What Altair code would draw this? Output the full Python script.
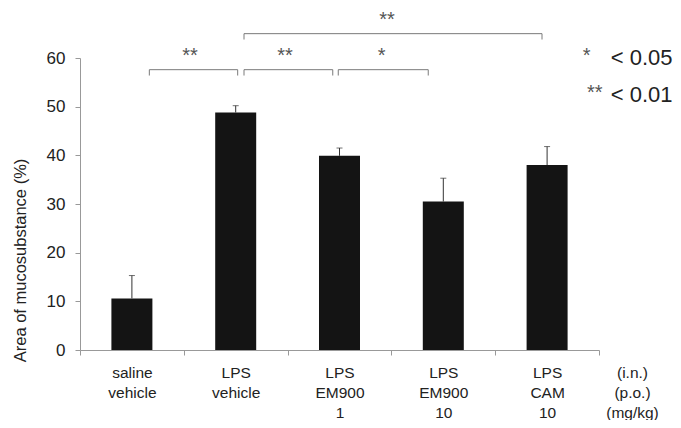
import altair as alt
import pandas as pd

# ---- data ----
row_in = ["saline", "LPS", "LPS", "LPS", "LPS"]
row_po = ["vehicle", "vehicle", "EM900", "EM900", "CAM"]
row_dose = ["", "", "1", "10", "10"]
means = [10.6, 48.8, 39.9, 30.5, 38.0]
errors = [4.7, 1.4, 1.6, 4.8, 3.8]
unit_labels = ["(i.n.)", "(p.o.)", "(mg/kg)"]

# significance brackets (x in group units: group k spans k..k+1)
br_x1 = [0.668, 1.580, 2.488, 1.580]
br_x2 = [1.519, 2.435, 3.355, 4.451]
br_y = [57.6, 57.6, 57.6, 65.0]
br_drop = 1.2
br_star = ["**", "**", "*", "**"]
br_star_x = [1.06, 1.975, 2.907, 2.958]
br_star_y = [59.2, 59.2, 59.2, 66.5]

# p-value key
key_star = ["*", "**"]
key_star_x = [4.881, 4.959]
key_star_y = [59.2, 51.6]
key_text = ["< 0.05", "< 0.01"]
key_text_x = [5.113, 5.113]
key_text_y = [58.6, 51.0]

FONT = "Liberation Sans"

cats = [f"{a}|{b}|{c}" for a, b, c in zip(row_in, row_po, row_dose)]
bars = pd.DataFrame({"cat": cats, "mean": means,
                     "top": [m + e for m, e in zip(means, errors)]})

pts = []
for i, (x1, x2, y) in enumerate(zip(br_x1, br_x2, br_y)):
    pts += [
        {"id": i, "o": 0, "x": x1, "y": y - br_drop},
        {"id": i, "o": 1, "x": x1, "y": y},
        {"id": i, "o": 2, "x": x2, "y": y},
        {"id": i, "o": 3, "x": x2, "y": y - br_drop},
    ]
brackets = pd.DataFrame(pts)
stars = pd.DataFrame({"x": br_star_x + key_star_x,
                      "y": br_star_y + key_star_y,
                      "t": br_star + key_star})
keytext = pd.DataFrame({"x": key_text_x, "y": key_text_y, "t": key_text})

yscale = alt.Scale(domain=[0, 60], nice=False)
xband = alt.Scale(paddingInner=0, paddingOuter=0)
xq = alt.Scale(domain=[0, 5], nice=False, zero=False)

xaxis = alt.Axis(
    title=unit_labels, titleX=552, titleY=15, titleAlign="center",
    titleBaseline="top", titleFontSize=15.5, titleFontWeight="normal",
    titleLineHeight=20, titleColor="#222", titleFont=FONT,
    labelExpr="split(datum.label, '|')", labelAngle=0, labelFontSize=15.5,
    labelLineHeight=20, labelPadding=10, labelBaseline="top",
    labelColor="#222", labelFont=FONT,
    tickBand="extent", tickSize=5, tickColor="#999", domainColor="#999",
)
yaxis = alt.Axis(
    title="Area of mucosubstance (%)", values=[0, 10, 20, 30, 40, 50, 60],
    tickSize=5, labelPadding=10, labelFontSize=17, labelColor="#222",
    labelFont=FONT, titleFont=FONT, titleFontSize=16.5, titleFontWeight="normal",
    titleColor="#222", titleX=-60, titleY=202, titleAngle=-90,
    titleAlign="center", titleBaseline="middle", grid=False,
    domainColor="#999", tickColor="#999",
)

base = alt.Chart(bars)
bar_layer = base.mark_bar(color="#141414", width=alt.RelativeBandSize(0.395)).encode(
    x=alt.X("cat:N", sort=None, scale=xband, axis=xaxis),
    y=alt.Y("mean:Q", scale=yscale, axis=yaxis),
)
err_layer = base.mark_rule(color="#333", strokeWidth=1).encode(
    x=alt.X("cat:N", sort=None, scale=xband, axis=xaxis),
    y=alt.Y("mean:Q", scale=yscale, axis=yaxis),
    y2="top:Q",
)
cap_layer = base.mark_tick(color="#333", thickness=1, size=6).encode(
    x=alt.X("cat:N", sort=None, scale=xband, axis=xaxis),
    y=alt.Y("top:Q", scale=yscale, axis=yaxis),
)
bar_group = alt.layer(bar_layer, err_layer, cap_layer)

bracket_layer = alt.Chart(brackets).mark_line(color="#7a7a7a", strokeWidth=1).encode(
    x=alt.X("x:Q", scale=xq, axis=None),
    y=alt.Y("y:Q", scale=yscale, axis=yaxis),
    detail="id:N",
    order="o:Q",
)
star_layer = alt.Chart(stars).mark_text(
    font=FONT, fontSize=20, color="#555", align="center", baseline="alphabetic"
).encode(
    x=alt.X("x:Q", scale=xq, axis=None),
    y=alt.Y("y:Q", scale=yscale, axis=yaxis),
    text="t:N",
)
key_layer = alt.Chart(keytext).mark_text(
    font=FONT, fontSize=22, color="#222", align="left", baseline="alphabetic"
).encode(
    x=alt.X("x:Q", scale=xq, axis=None),
    y=alt.Y("y:Q", scale=yscale, axis=yaxis),
    text="t:N",
)
annot_group = alt.layer(bracket_layer, star_layer, key_layer)

chart = alt.layer(bar_group, annot_group).resolve_scale(x="independent").properties(
    width=519, height=292,
    padding={"left": 72, "top": 50, "right": 74, "bottom": 70},
    autosize=alt.AutoSizeParams(type="none"),
).configure(background="white", view=alt.ViewConfig(stroke=None))

chart.save("out.html", embed_options={"renderer": "svg", "actions": False})
